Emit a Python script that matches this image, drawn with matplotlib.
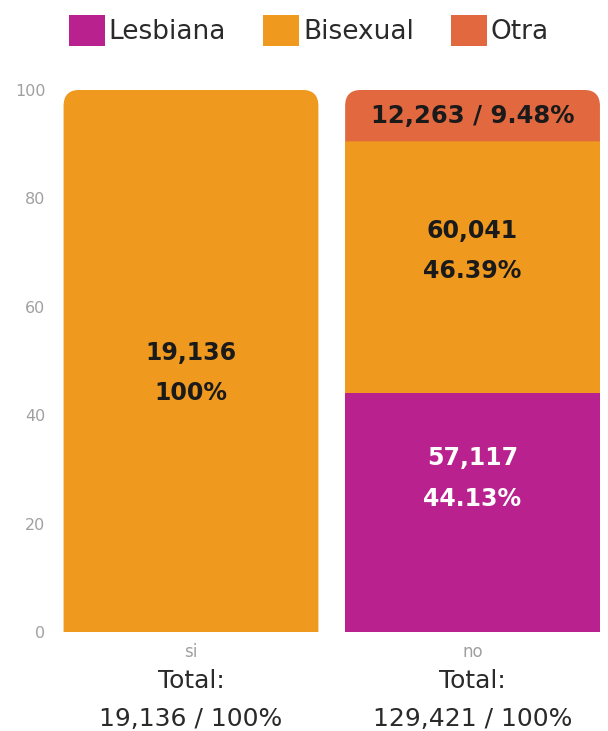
import matplotlib
matplotlib.use("Agg")
import matplotlib.pyplot as plt
from matplotlib.patches import PathPatch, Patch
from matplotlib.path import Path
import numpy as np

categories = ["si", "no"]
series_names = ["Lesbiana", "Bisexual", "Otra"]
counts = {
    "Lesbiana": [0, 57117],
    "Bisexual": [19136, 60041],
    "Otra": [0, 12263],
}
percents = {
    "Lesbiana": [0.0, 44.13],
    "Bisexual": [100.0, 46.39],
    "Otra": [0.0, 9.48],
}
totals = [19136, 129421]
yticks = [0, 20, 40, 60, 80, 100]
colors = {"Lesbiana": "#B8218E", "Bisexual": "#F0991F", "Otra": "#E2693F"}
text_colors = {"Lesbiana": "white", "Bisexual": "#1a1a1a", "Otra": "#1a1a1a"}

plt.rcParams['font.family'] = ['DejaVu Sans']

fig = plt.figure(figsize=(6.08, 7.31), dpi=100)
ax = fig.add_axes([0.102, 0.135, 0.885, 0.742])

x = np.arange(len(categories))
width = 0.905
bottoms = np.zeros(len(categories))
patches_by = {}
for name in series_names:
    vals = np.array(percents[name])
    bars = ax.bar(x, vals, width, bottom=bottoms, color=colors[name], linewidth=0)
    patches_by[name] = (bars, bottoms.copy(), vals)
    bottoms = bottoms + vals

ax.set_xlim(-0.458, 1.453)
ax.set_ylim(0, 100)
fig.canvas.draw()

# replace the topmost segment of each stack by a shape with rounded top corners
bbox = ax.get_window_extent()
xpp = (ax.get_xlim()[1] - ax.get_xlim()[0]) / bbox.width
ypp = (ax.get_ylim()[1] - ax.get_ylim()[0]) / bbox.height
r_px = 16
for i in range(len(categories)):
    top_name = None
    for name in series_names:
        if percents[name][i] > 0:
            top_name = name
    bars, bots, vals = patches_by[top_name]
    p = bars[i]
    x0, y0, w, h = p.get_x(), p.get_y(), p.get_width(), p.get_height()
    p.set_visible(False)
    rx, ry = r_px * xpp, r_px * ypp
    x1, y1 = x0 + w, y0 + h
    verts = [(x0, y0), (x1, y0), (x1, y1 - ry), (x1, y1), (x1 - rx, y1),
             (x0 + rx, y1), (x0, y1), (x0, y1 - ry), (x0, y0)]
    codes = [Path.MOVETO, Path.LINETO, Path.LINETO, Path.CURVE3, Path.CURVE3,
             Path.LINETO, Path.CURVE3, Path.CURVE3, Path.CLOSEPOLY]
    ax.add_patch(PathPatch(Path(verts, codes), facecolor=colors[top_name], linewidth=0))

# labels inside segments (vertical nudges relative to segment middle)
nudges = {("Bisexual", 0): -2.2, ("Bisexual", 1): 3.0, ("Lesbiana", 1): 6.3, ("Otra", 1): 0.0}
label_fs = 17
for name in series_names:
    bars, bots, vals = patches_by[name]
    for i in range(len(categories)):
        v = vals[i]
        if v <= 0:
            continue
        mid = bots[i] + v / 2 + nudges.get((name, i), 0.0)
        cnt = f"{counts[name][i]:,}"
        pct = "100%" if v == 100 else f"{v:.2f}%"
        if name == "Otra":
            ax.text(x[i], mid, f"{cnt} / {pct}", ha="center", va="center",
                    fontsize=17.5, fontweight="bold", color=text_colors[name])
        else:
            for line, dy in ((cnt, 14.5), (pct, -14.5)):
                ax.annotate(line, xy=(x[i], mid), xytext=(0, dy), textcoords="offset points",
                            ha="center", va="center", fontsize=label_fs, fontweight="bold",
                            color=text_colors[name])

ax.set_yticks(yticks)
ax.set_yticklabels([str(t) for t in yticks], fontsize=11.5, color="#a0a0a0")
ax.tick_params(axis="y", length=0, pad=12)
ax.set_xticks(x)
ax.set_xticklabels(categories, fontsize=12, color="#a0a0a0")
ax.tick_params(axis="x", length=0, pad=8)
for s in ax.spines.values():
    s.set_visible(False)

for i in range(len(categories)):
    ax.annotate("Total:", xy=(x[i], 0), xytext=(0, -35), textcoords="offset points",
                ha="center", va="center", fontsize=18, color="#2a2a2a")
    ax.annotate(f"{totals[i]:,} / 100%", xy=(x[i], 0), xytext=(0, -62.5),
                textcoords="offset points", ha="center", va="center",
                fontsize=18, color="#2a2a2a")

handles = [Patch(facecolor=colors[n], edgecolor="none") for n in series_names]
fig.legend(handles, series_names, loc="center", bbox_to_anchor=(0.508, 0.958),
           ncol=3, frameon=False, fontsize=19, handlelength=1.36, handleheight=1.4,
           handletextpad=0.15, columnspacing=1.4, labelcolor="#2a2a2a",
           borderpad=0, borderaxespad=0)

fig.savefig("out.png", dpi=100)
